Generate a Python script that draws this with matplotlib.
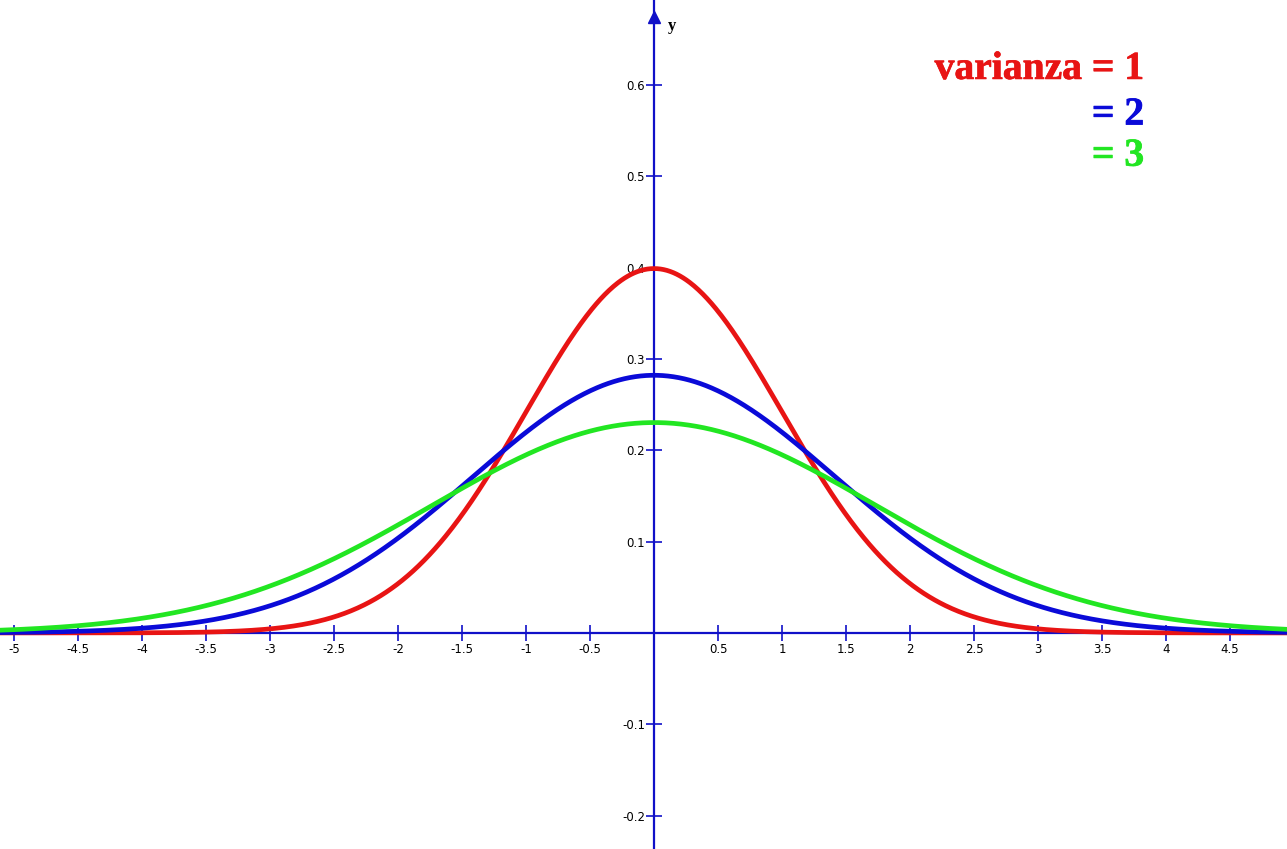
import numpy as np
import matplotlib
matplotlib.use("Agg")
import matplotlib.pyplot as plt
import matplotlib.patheffects as pe

# Variances of the three normal curves and their colours
variances = [1, 2, 3]
colors = ["#e81414", "#0a0ad8", "#22e622"]
legend_labels = ["varianza = 1", "= 2", "= 3"]

x_ticks = [-5, -4.5, -4, -3.5, -3, -2.5, -2, -1.5, -1, -0.5, 0.5, 1, 1.5, 2, 2.5, 3, 3.5, 4, 4.5]
y_ticks = [-0.2, -0.1, 0.1, 0.2, 0.3, 0.4, 0.5, 0.6]

axis_color = "#1010c8"

fig = plt.figure(figsize=(12.87, 8.49), dpi=100)
ax = fig.add_axes([0, 0, 1, 1])
ax.set_xlim(-5.11, 4.945)
ax.set_ylim(-0.2366, 0.693)

x = np.linspace(-5.2, 5.0, 1200)
for var, col in zip(variances, colors):
    y = np.exp(-x**2 / (2 * var)) / np.sqrt(2 * np.pi * var)
    ax.plot(x, y, color=col, lw=3.4, solid_capstyle="butt", zorder=3)

# Axes crossing at the origin
for side in ("top", "right"):
    ax.spines[side].set_visible(False)
for side in ("left", "bottom"):
    ax.spines[side].set_position("zero")
    ax.spines[side].set_color(axis_color)
    ax.spines[side].set_linewidth(1.6)
    ax.spines[side].set_zorder(2)

ax.set_xticks(x_ticks)
ax.set_xticklabels([f"{t:g}" for t in x_ticks])
ax.set_yticks(y_ticks)
ax.set_yticklabels([f"{t:g}" for t in y_ticks])
ax.tick_params(axis="both", direction="inout", length=11, width=1.2,
               color=axis_color, labelsize=8.5, labelcolor="black", pad=2)
ax.tick_params(axis="y", pad=1)

# Arrow at the top of the y axis
ax.plot([0], [0.674], marker="^", ms=9, color=axis_color, clip_on=False, zorder=4)
ax.text(0.14, 0.665, "y", fontsize=12, fontweight="bold", family="Liberation Serif",
        ha="center", va="center")
ax.text(4.985, 0.017, "x", fontsize=12, fontweight="bold", family="Liberation Serif",
        ha="center", va="center")

# Legend text in the upper right
legend_y = [0.617, 0.567, 0.522]
for lab, col, yy in zip(legend_labels, colors, legend_y):
    ax.text(3.83, yy, lab, color=col, fontsize=28.5, fontweight="bold",
            family="Liberation Serif", ha="right", va="center",
            path_effects=[pe.withStroke(linewidth=0.5, foreground=col)])

fig.savefig("out.png", dpi=100)
